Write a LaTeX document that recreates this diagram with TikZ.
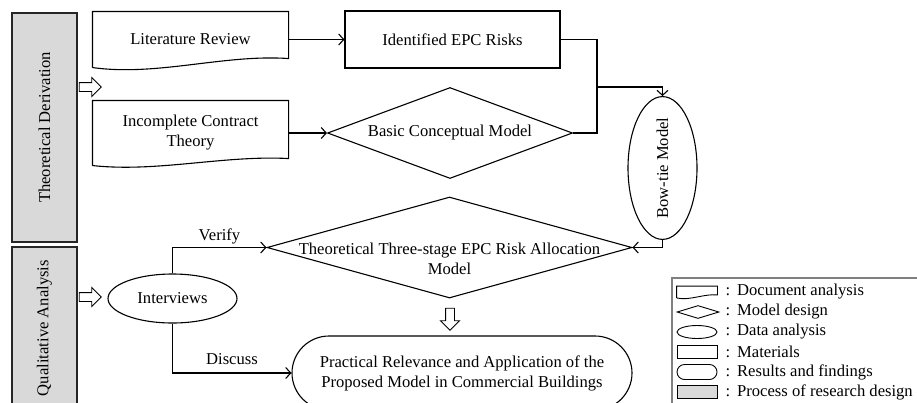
\documentclass[tikz,border=0pt]{standalone}
\usepackage{fontspec}
\setmainfont{Liberation Serif}
\usetikzlibrary{shapes,calc,positioning,arrows.meta}

% outline of a document shape round a named node, #2 = rise of the right corner
\newcommand{\docoutline}[2]{%
  \draw (#1.south west) -- (#1.north west) -- (#1.north east) -- ([yshift=#2]#1.south east)
    .. controls ($(#1.south west)!0.67!(#1.south east)+(0pt,1.5*#2)$) and ($(#1.south west)!0.33!(#1.south east)-(0pt,#2)$) .. (#1.south west);}

\begin{document}
\begin{tikzpicture}[x=1pt,y=-1pt,line width=1.1pt,>={Straight Barb[length=5pt,width=11pt]},font=\fontsize{16.6}{20}\selectfont]
   \useasboundingbox (0,0) rectangle (917,402);
   \tikzstyle{phase}=[draw=black!85, fill=black!15, rotate=90, minimum height=65pt, inner sep=0pt]
   \tikzstyle{doc}=[minimum width=195pt, inner sep=0pt, align=center]
   \tikzstyle{model}=[diamond, draw, inner sep=0pt]
   \tikzstyle{data}=[ellipse, draw, inner sep=0pt]
   \tikzstyle{material}=[rectangle, draw, align=center]
   \tikzstyle{result}=[rounded rectangle, draw, align=center, inner sep=0pt]
   \tikzstyle{hollow}=[single arrow, draw, line width=0.9pt, minimum height=22pt, minimum width=18pt, single arrow head extend=5pt, inner xsep=0pt, inner ysep=4pt]
   \node[phase, minimum width=229pt] (theory) at (44.5,127.5) {Theoretical Derivation};
   \node[phase, minimum width=162pt] (quali) at (44.5,328) {Qualitative Analysis};
   \node[hollow] (tharrow) at (88,87) {};
   \node[hollow] (qarrow) at (88,297) {};
   \node[doc, minimum height=55pt] (litrev) at (190.5,39.5) {Literature Review};
   \docoutline{litrev}{9pt}
   \node[doc, minimum height=64pt] (contract) at (190.5,133) {Incomplete Contract\\Theory};
   \docoutline{contract}{7pt}
   \node[material, minimum width=215pt, minimum height=57pt] (risks) at (452.5,39.5) {Identified EPC Risks};
   \node[model, minimum width=245pt, minimum height=91pt, label=center:Basic Conceptual Model] (basic) at (450,133) {};
   \node[data, rotate=90, minimum width=116pt, minimum height=69pt] (bowtie) at (662.5,168) {Bow-tie Model};
   \node[model, minimum width=365pt, minimum height=101pt, label={[yshift=-11pt,align=center]center:{Theoretical Three-stage EPC Risk Allocation\\Model}}] (alloc) at (449.5,247.5) {};
   \node[data, minimum width=129pt, minimum height=49pt] (interviews) at (172.5,298.5) {Interviews};
   \node[hollow, rotate=-90] (downarrow) at (450,317) {};
   \node[result, minimum width=340pt, minimum height=74pt] (practical) at (462,373) {Practical Relevance and Application of the\\Proposed Model in Commercial Buildings};
   \path[->] (litrev.east) edge (risks.west);
   \path[->] (contract.east) edge (basic.west);
   \coordinate (merge) at (597,87);
   \draw (risks.east) -| (merge);
   \draw (basic.east) -| (merge);
   \draw[->] (merge) -| (bowtie.east);
   \draw[->] (bowtie.west) |- (alloc.east);
   \draw[->] (interviews.north) |- node[above, pos=0.75] {Verify} (alloc.west);
   \draw[->] (interviews.south) |- node[above, pos=0.75, yshift=4pt] {Discuss} (practical.west);
   % legend
   \draw[black!50] (672,278) rectangle (940,420);
   \begin{scope}[line width=0.9pt]
     \node[minimum width=40pt, minimum height=11pt, inner sep=0pt] (legdoc) at (697,292) {};
     \docoutline{legdoc}{3pt}
     \node[model, minimum width=42pt, minimum height=13pt] (legmodel) at (698,312) {};
     \node[data, minimum width=40pt, minimum height=13pt] (legdata) at (697,332) {};
     \node[material, minimum width=40pt, minimum height=13pt, inner sep=0pt] (legmat) at (697,352) {};
     \node[result, minimum width=40pt, minimum height=15pt] (legres) at (697,372) {};
     \node[draw, fill=black!15, minimum width=40pt, minimum height=13pt, inner sep=0pt] (legphase) at (697,392) {};
   \end{scope}
   \foreach \y/\txt [count=\i] in {292/Document analysis, 312/Model design, 332/Data analysis, 352/Materials, 372/Results and findings, 392/Process of research design} {
       \node[anchor=west, inner sep=0pt] (leg\i) at (725,\y) {:\hspace{7pt}\txt};
   }
\end{tikzpicture}
\end{document}
